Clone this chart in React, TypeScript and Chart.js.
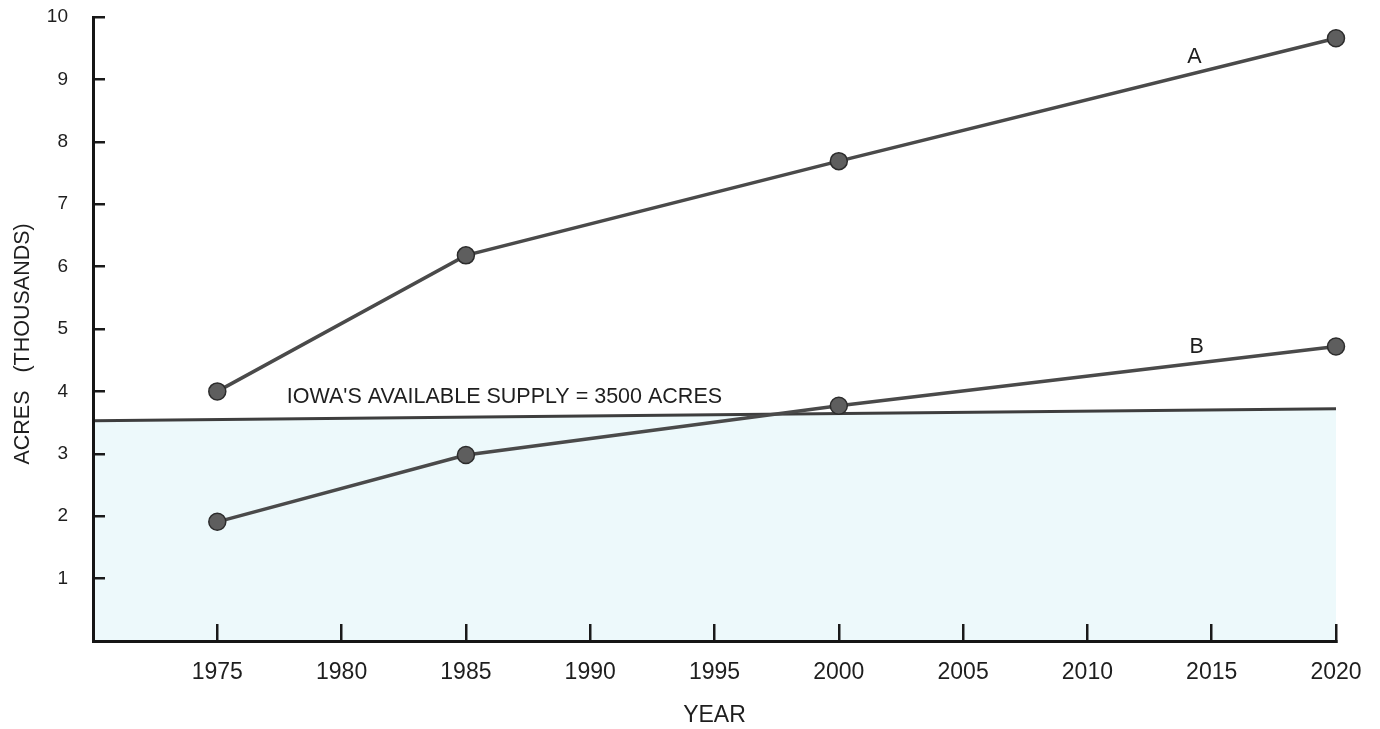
import React, { useEffect, useRef } from 'react';
import { Chart, registerables } from 'chart.js';

Chart.register(...registerables);

// ---- data ----
const years = [1975, 1985, 2000, 2020];
const seriesA = [4.0, 6.18, 7.69, 9.66];
const seriesB = [1.91, 2.98, 3.77, 4.72];
const supplyYears = [1970, 2020];
const supplyValues = [3.53, 3.72];
const xTickValues = [1975, 1980, 1985, 1990, 1995, 2000, 2005, 2010, 2015, 2020];
const yTickValues = [1, 2, 3, 4, 5, 6, 7, 8, 9, 10];
const noteTexts = ['A', 'B', "IOWA'S AVAILABLE SUPPLY = 3500 ACRES"];
const noteYears = [2014.3, 2014.4, 1986.55];
const noteValues = [9.36, 4.71, 3.91];

const FONT = "'Liberation Sans', Arial, Helvetica, sans-serif";
const TEXT = '#1e1e1e';

const notesPlugin = {
  id: 'notes',
  afterDatasetsDraw(chart: any) {
    const { ctx, scales } = chart;
    ctx.save();
    ctx.fillStyle = TEXT;
    ctx.font = `21.5px ${FONT}`;
    ctx.textAlign = 'center';
    ctx.textBaseline = 'middle';
    noteTexts.forEach((t, i) => {
      const x = scales.x.getPixelForValue(noteYears[i]);
      const y = scales.y.getPixelForValue(noteValues[i]);
      ctx.fillText(t, x, y);
    });
    ctx.restore();
  },
};

export default function App() {
  const ref = useRef<HTMLCanvasElement | null>(null);

  useEffect(() => {
    if (!ref.current) return;
    const lineStyle = {
      borderColor: '#4a4a4a',
      borderWidth: 3.5,
      pointRadius: 8.5,
      pointBackgroundColor: '#5e5e5e',
      pointBorderColor: '#2c2c2c',
      pointBorderWidth: 1.5,
      fill: false,
      clip: false as any,
    };
    const chart = new Chart(ref.current, {
      type: 'line',
      data: {
        datasets: [
          {
            label: 'Supply',
            data: supplyYears.map((x, i) => ({ x, y: supplyValues[i] })),
            borderColor: '#3e3e3e',
            borderWidth: 3,
            backgroundColor: '#edf9fb',
            fill: 'origin',
            pointRadius: 0,
            order: 3,
          },
          {
            label: 'A',
            data: years.map((x, i) => ({ x, y: seriesA[i] })),
            ...lineStyle,
            order: 1,
          },
          {
            label: 'B',
            data: years.map((x, i) => ({ x, y: seriesB[i] })),
            ...lineStyle,
            order: 2,
          },
        ],
      },
      options: {
        animation: false,
        responsive: true,
        maintainAspectRatio: false,
        layout: { padding: { left: 10, right: 44, top: 17, bottom: 0 } },
        plugins: { legend: { display: false }, tooltip: { enabled: false } },
        scales: {
          x: {
            type: 'linear',
            min: 1970,
            max: 2020,
            z: 1,
            afterBuildTicks: (s: any) => {
              s.ticks = xTickValues.map((v) => ({ value: v }));
            },
            afterFit: (s: any) => {
              s.height = 88;
              s.paddingLeft = 0;
              s.paddingRight = 0;
            },
            grid: {
              z: 1,
              drawOnChartArea: false,
              drawTicks: true,
              tickLength: -17,
              lineWidth: 2.5,
              color: '#1a1a1a',
            },
            border: { display: true, width: 3, color: '#151515', z: 1 },
            ticks: {
              padding: 35,
              autoSkip: false,
              maxRotation: 0,
              color: TEXT,
              font: { family: FONT, size: 23 },
              callback: (v: any) => String(v),
            },
            title: {
              display: true,
              text: 'YEAR',
              color: TEXT,
              font: { family: FONT, size: 23 },
              padding: { top: 0, bottom: 0 },
            },
          },
          y: {
            min: 0,
            max: 10,
            z: 1,
            afterBuildTicks: (s: any) => {
              s.ticks = yTickValues.map((v) => ({ value: v }));
            },
            afterFit: (s: any) => {
              s.width = 83;
              s.paddingTop = 0;
              s.paddingBottom = 0;
            },
            grid: {
              z: 1,
              drawOnChartArea: false,
              drawTicks: true,
              tickLength: -12,
              lineWidth: 2.5,
              color: '#1a1a1a',
            },
            border: { display: true, width: 3, color: '#151515', z: 1 },
            ticks: {
              padding: 37,
              color: TEXT,
              font: { family: FONT, size: 19 },
              callback: (v: any) => String(v),
            },
            title: {
              display: true,
              text: 'ACRES   (THOUSANDS)     ',
              color: TEXT,
              font: { family: FONT, size: 21.5 },
              padding: { top: 0, bottom: 0 },
            },
          },
        },
      },
      plugins: [notesPlugin],
    });
    return () => chart.destroy();
  }, []);

  return (
    <div style={{ position: 'absolute', left: 0, top: 0, width: 1380, height: 729, background: '#fff' }}>
      <canvas ref={ref} />
    </div>
  );
}
